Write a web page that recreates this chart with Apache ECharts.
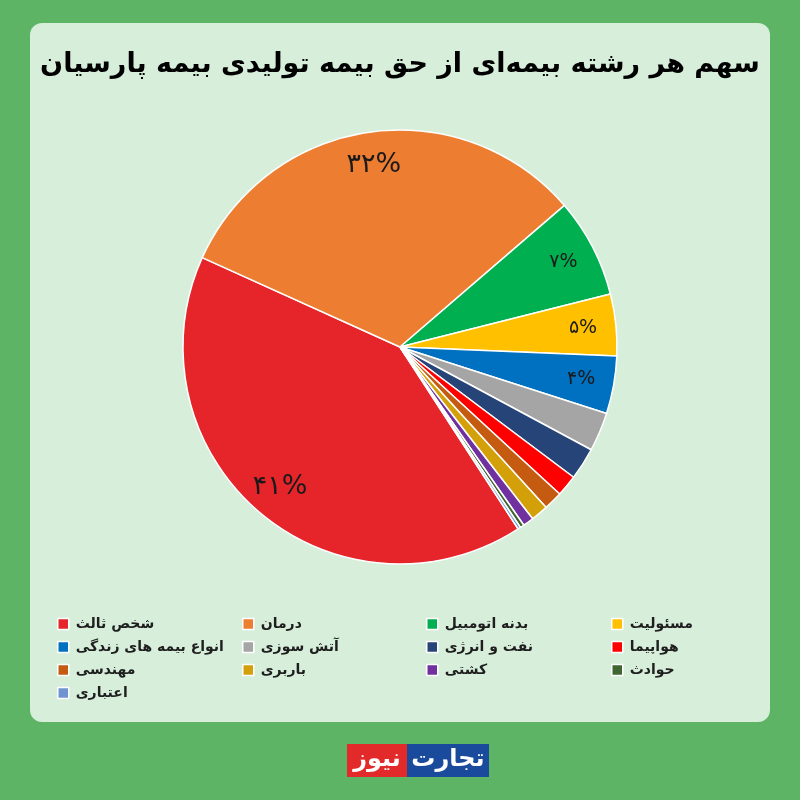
<!DOCTYPE html>
<html><head><meta charset="utf-8">
<script src="https://cdn.jsdelivr.net/npm/echarts@6/dist/echarts.min.js"></script>
<style>html,body{margin:0;padding:0;background:#5cb464;}#c{width:800px;height:800px;}</style>
</head><body><div id="c"></div>
<script>
const categories = ['شخص ثالث','درمان','بدنه اتومبیل','مسئولیت','انواع بیمه های زندگی','آتش سوزی','نفت و انرژی','هواپیما','مهندسی','باربری','کشتی','حوادث','اعتباری'];
const values = [41, 32, 7.4, 4.6, 4.3, 2.9, 2.4, 1.6, 1.4, 1.3, 0.8, 0.3, 0.2];
const colors = ['#e6252b','#ed7d31','#00b050','#ffc000','#0070c0','#a5a5a5','#264478','#ff0000','#c55a11','#d4a00a','#7030a0','#3f6530','#7094d0'];
const legendColumns = [
  ['شخص ثالث','انواع بیمه های زندگی','مهندسی','اعتباری'],
  ['درمان','آتش سوزی','باربری'],
  ['بدنه اتومبیل','نفت و انرژی','کشتی'],
  ['مسئولیت','هواپیما','حوادث']
];
const titleText = 'سهم هر رشته بیمه‌ای از حق بیمه تولیدی بیمه پارسیان';

const fa = s => String(s).replace(/[0-9]/g, d => '۰۱۲۳۴۵۶۷۸۹'[d]);
const chart = echarts.init(document.getElementById('c'), null, {renderer:'canvas'});
const mainData = categories.map((n,i)=>({name:n, value:values[i], itemStyle:{color:colors[i]}}));
const labelData = categories.map((n,i)=>({name:n, value:values[i]}));
const colX = [52, 237, 421, 606];
const legends = legendColumns.map((col,ci)=>({
  orient:'vertical', left: colX[ci], top: 612, itemGap: 9,
  itemWidth: 11, itemHeight: 11, icon:'rect',
  itemStyle:{borderColor:'#ffffff', borderWidth:1.5},
  selectedMode:false,
  data: col,
  textStyle:{fontFamily:'DejaVu Sans', fontWeight:'bold', fontSize:14, color:'#1e1e1e', padding:[0,0,0,2]}
}));
chart.setOption({
  animation:false,
  color: colors,
  graphic:[
    {type:'rect', z:-10, shape:{x:30,y:23,width:740,height:699,r:12}, style:{fill:'#d7eedb'}},
    {type:'rect', shape:{x:347,y:744,width:60,height:33}, style:{fill:'#e32a2a'}},
    {type:'rect', shape:{x:407,y:744,width:82,height:33}, style:{fill:'#1a4a9c'}},
    {type:'text', style:{x:377,y:760,text:'نیوز',fill:'#fff',font:'bold 24px "DejaVu Sans"',align:'center',verticalAlign:'middle'}},
    {type:'text', style:{x:448,y:760,text:'تجارت',fill:'#fff',font:'bold 24px "DejaVu Sans"',align:'center',verticalAlign:'middle'}}
  ],
  title:{text:titleText, left:'center', top:46,
    textStyle:{fontFamily:'DejaVu Sans', fontWeight:'bold', fontSize:27, color:'#000'}},
  legend: legends,
  series:[
    {type:'pie', center:[400,347], radius:[0,217], startAngle:303, clockwise:true,
      data: mainData, label:{show:false}, labelLine:{show:false},
      itemStyle:{borderColor:'#ffffff', borderWidth:1.5}, emphasis:{disabled:true}},
    {type:'pie', center:[400,347], radius:[145,217], startAngle:303, clockwise:true,
      data: labelData, silent:true, emphasis:{disabled:true},
      itemStyle:{color:'rgba(0,0,0,0)', borderWidth:0},
      labelLine:{show:false},
      label:{show:true, position:'inside', color:'#1a1a1a', fontFamily:'DejaVu Sans',
        rich:{big:{fontSize:27,color:'#1a1a1a',fontFamily:'DejaVu Sans'}, sm:{fontSize:19,color:'#1a1a1a',fontFamily:'DejaVu Sans'}},
        formatter: p => p.percent < 3.5 ? '' : (p.percent > 20 ? '{big|' : '{sm|') + fa(Math.round(p.percent)) + '%}'}
    }
  ]
});
</script></body></html>
